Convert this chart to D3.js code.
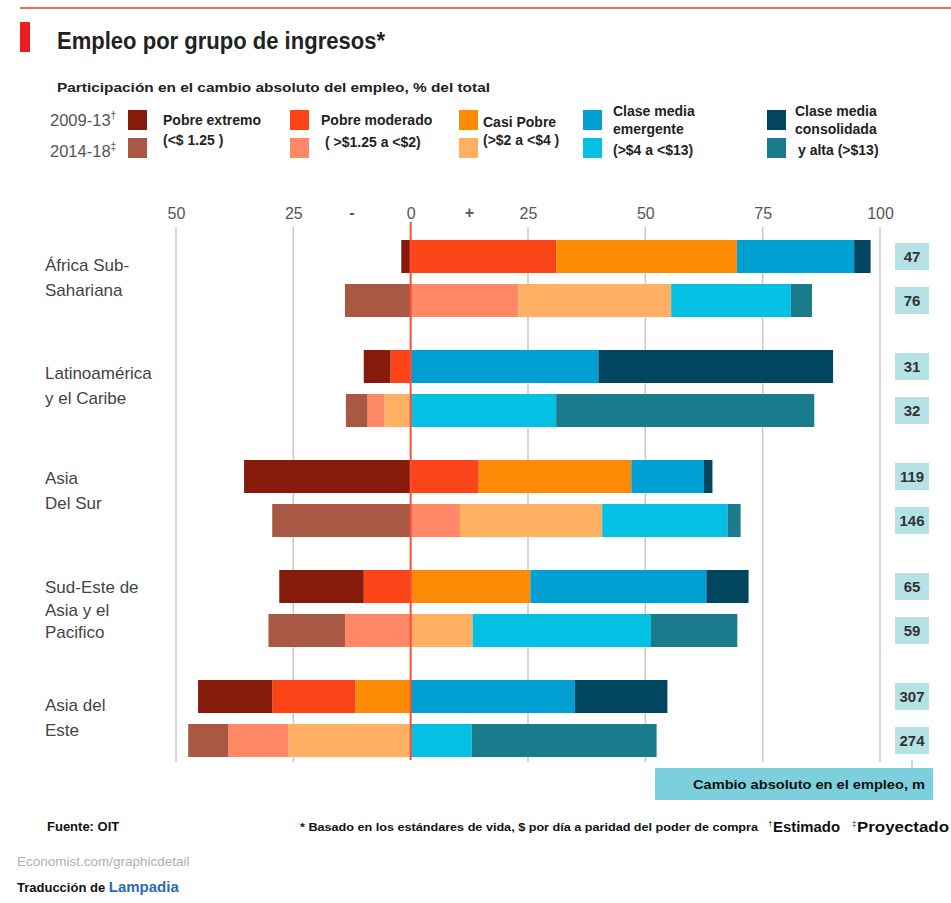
<!DOCTYPE html>
<html>
<head>
<meta charset="utf-8">
<script src="https://cdn.jsdelivr.net/npm/d3@7"></script>
<style>
  body { margin: 0; background: #fff; }
  text { font-family: "Liberation Sans", Arial, sans-serif; }
</style>
</head>
<body>
<div class="chart"></div>
<script>
// data
const regions = ["África Sub-Sahariana", "Latinoamérica y el Caribe", "Asia Del Sur", "Sud-Este de Asia y el Pacifico", "Asia del Este"];
const regionLines = [["África Sub-", "Sahariana"], ["Latinoamérica", "y el Caribe"], ["Asia", "Del Sur"], ["Sud-Este de", "Asia y el", "Pacifico"], ["Asia del", "Este"]];
const years = ["2009-13", "2014-18"];
const categories = ["Pobre extremo", "Pobre moderado", "Casi Pobre", "Clase media emergente", "Clase media consolidada y alta"];
// signed share of absolute change in employment, % of total (one row per region)
const values2009 = [
  [-2, 31, 38.5, 25, 3.5],
  [-5.7, -4.3, 0, 40, 50],
  [-35.5, 14.5, 32.5, 15.5, 1.8],
  [-18, -10, 25.5, 37.5, 9],
  [-15.8, -17.7, -11.8, 35, 19.7]
];
const values2014 = [
  [-14, 23, 32.5, 25.5, 4.5],
  [-4.6, -3.6, -5.6, 31, 55],
  [-29.5, 10.5, 30.3, 26.7, 2.8],
  [-16.3, -14, 13.2, 38, 18.4],
  [-8.5, -12.9, -26, 13, 39.4]
];
const change2009 = [47, 31, 119, 65, 307];
const change2014 = [76, 32, 146, 59, 274];
const tickValues = [-50, -25, 0, 25, 50, 75, 100];

const colors2009 = ["#861b0b", "#fc4419", "#fd8b06", "#02a0d2", "#01455e"];
const colors2014 = ["#a85843", "#ff8966", "#ffb062", "#04c1e3", "#1a7b8d"];

const totalWidth = 951, totalHeight = 903;

const svg = d3.select(".chart").append("svg")
  .attr("width", totalWidth).attr("height", totalHeight);

// header
svg.append("line").attr("x1", 20).attr("x2", 951).attr("y1", 8).attr("y2", 8)
  .attr("stroke", "#f06a5e").attr("stroke-width", 2);
svg.append("rect").attr("x", 20).attr("y", 22).attr("width", 10).attr("height", 30).attr("fill", "#ee1c1c");
svg.append("text").attr("x", 57).attr("y", 49)
  .attr("font-size", 24).attr("font-weight", "bold").attr("fill", "#222")
  .attr("textLength", 328).attr("lengthAdjust", "spacingAndGlyphs")
  .text("Empleo por grupo de ingresos*");
svg.append("text").attr("x", 57).attr("y", 92)
  .attr("font-size", 13.5).attr("font-weight", "bold").attr("fill", "#222")
  .attr("textLength", 433).attr("lengthAdjust", "spacingAndGlyphs")
  .text("Participación en el cambio absoluto del empleo, % del total");

// legend
const legend = svg.append("g");
const yearLabel = legend.selectAll(".yl").data(years).enter().append("text")
  .attr("x", 50).attr("y", (d, i) => 126 + i * 31)
  .attr("font-size", 16.5).attr("fill", "#555")
  .text(d => d);
yearLabel.append("tspan").attr("font-size", 10).attr("dy", -7).text((d, i) => i ? "‡" : "†");

const legendX = [128, 290, 459, 583, 767];
const legendTexts = [
  [["Pobre extremo", 163, 125], ["(<$ 1.25 )", 163, 145]],
  [["Pobre moderado", 321, 125], ["( >$1.25 a <$2)", 325, 147]],
  [["Casi Pobre", 483, 127], ["(>$2 a <$4 )", 483, 145]],
  [["Clase media", 613, 116], ["emergente", 613, 134], ["(>$4 a <$13)", 613, 155]],
  [["Clase media", 795, 116], ["consolidada", 795, 134], ["y alta (>$13)", 798, 155]]
];
categories.forEach((c, i) => {
  legend.append("rect").attr("x", legendX[i]).attr("y", 110).attr("width", 19).attr("height", 20).attr("fill", colors2009[i]);
  legend.append("rect").attr("x", legendX[i]).attr("y", 138).attr("width", 19).attr("height", 20).attr("fill", colors2014[i]);
  legendTexts[i].forEach(t => {
    legend.append("text").attr("x", t[1]).attr("y", t[2])
      .attr("font-size", 14).attr("font-weight", "bold").attr("fill", "#222")
      .text(t[0]);
  });
});

// scales
const xScale = d3.scaleLinear().domain([-50, 100]).range([176, 880]);
const yRegion = d3.scaleBand().domain(regions).range([240, 757]).paddingInner(0.3);
const yYear = d3.scaleBand().domain(years).range([0, yRegion.bandwidth()]).paddingInner(0.25);

// top axis labels
const xAxis = d3.axisTop(xScale).tickValues(tickValues).tickSize(0).tickFormat(d => Math.abs(d));
const axisG = svg.append("g").attr("transform", "translate(0,222)").call(xAxis);
axisG.select(".domain").remove();
axisG.selectAll("text").attr("font-size", 16).attr("fill", "#555")
  .attr("font-family", "Liberation Sans, Arial");
svg.selectAll(".sign").data([["-", -12.5], ["+", 12.5]]).enter().append("text")
  .attr("x", d => xScale(d[1])).attr("y", 218).attr("text-anchor", "middle")
  .attr("font-size", 16).attr("font-weight", "bold").attr("fill", "#555").text(d => d[0]);

// gridlines
svg.append("g").selectAll("line").data(tickValues.filter(d => d !== 0)).enter().append("line")
  .attr("x1", d => xScale(d)).attr("x2", d => xScale(d))
  .attr("y1", 227).attr("y2", 762)
  .attr("stroke", "#c8c8c8").attr("stroke-width", 1.5);

// bars
const chartGroup = svg.append("g");
regions.forEach((r, ri) => {
  [values2009[ri], values2014[ri]].forEach((vals, yi) => {
    const cols = yi ? colors2014 : colors2009;
    const y = yRegion(r) + yYear(years[yi]);
    const segs = [];
    let pos = 0;
    vals.forEach((v, ci) => {
      if (v > 0) { segs.push({ x0: pos, x1: pos + v, c: cols[ci] }); pos += v; }
    });
    let neg = 0;
    for (let ci = vals.length - 1; ci >= 0; ci--) {
      const v = vals[ci];
      if (v < 0) { segs.push({ x0: neg + v, x1: neg, c: cols[ci] }); neg += v; }
    }
    chartGroup.selectAll(null).data(segs).enter().append("rect")
      .attr("x", d => xScale(d.x0))
      .attr("width", d => xScale(d.x1) - xScale(d.x0))
      .attr("y", y).attr("height", yYear.bandwidth())
      .attr("fill", d => d.c);
  });
});

// zero line
svg.append("line").attr("x1", xScale(0)).attr("x2", xScale(0)).attr("y1", 222).attr("y2", 760)
  .attr("stroke", "#ff4a3a").attr("stroke-width", 2);

// region labels
const labelShift = [0, -2, -7, 2, 0];
regions.forEach((r, ri) => {
  const lines = regionLines[ri];
  const lh = lines.length > 2 ? 22.5 : 24.5;
  const mid = yRegion(r) + yRegion.bandwidth() / 2;
  const start = mid - (lines.length - 1) * lh / 2 + 5 + labelShift[ri];
  lines.forEach((l, li) => {
    svg.append("text").attr("x", 45).attr("y", start + li * lh)
      .attr("font-size", 17).attr("fill", "#444")
      .text(l);
  });
});

// change labels
const changeData = [];
regions.forEach((r, ri) => {
  changeData.push({ y: yRegion(r) + yYear(years[0]) + yYear.bandwidth() / 2, v: change2009[ri] });
  changeData.push({ y: yRegion(r) + yYear(years[1]) + yYear.bandwidth() / 2, v: change2014[ri] });
});
svg.selectAll(".cbox").data(changeData).enter().append("rect")
  .attr("x", 895).attr("y", d => d.y - 13.5).attr("width", 34).attr("height", 27)
  .attr("fill", "#b5e2e5");
svg.selectAll(".clab").data(changeData).enter().append("text")
  .attr("x", 912).attr("y", d => d.y + 5.5).attr("text-anchor", "middle")
  .attr("font-size", 15).attr("font-weight", "bold").attr("fill", "#333")
  .text(d => d.v);

// box for change title
svg.append("line").attr("x1", 912).attr("x2", 912).attr("y1", 760).attr("y2", 768)
  .attr("stroke", "#aaa").attr("stroke-width", 1);
svg.append("rect").attr("x", 655).attr("y", 768).attr("width", 278).attr("height", 32).attr("fill", "#7ccfdd");
svg.append("text").attr("x", 925).attr("y", 789).attr("text-anchor", "end")
  .attr("font-size", 13).attr("font-weight", "bold").attr("fill", "#111")
  .attr("textLength", 232).attr("lengthAdjust", "spacingAndGlyphs")
  .text("Cambio absoluto en el empleo, m");

// footer
svg.append("text").attr("x", 47).attr("y", 831).attr("font-size", 13).attr("font-weight", "bold").attr("fill", "#111")
  .text("Fuente: OIT");
svg.append("text").attr("x", 300).attr("y", 831).attr("font-size", 11).attr("font-weight", "bold").attr("fill", "#111")
  .attr("textLength", 458).attr("lengthAdjust", "spacingAndGlyphs")
  .text("* Basado en los estándares de vida, $ por día a paridad del poder de compra");
svg.append("text").attr("x", 768).attr("y", 826).attr("font-size", 8).attr("fill", "#111").text("†");
svg.append("text").attr("x", 773).attr("y", 832).attr("font-size", 14).attr("font-weight", "bold").attr("fill", "#111")
  .attr("textLength", 67).attr("lengthAdjust", "spacingAndGlyphs").text("Estimado");
svg.append("text").attr("x", 852).attr("y", 826).attr("font-size", 8).attr("fill", "#111").text("‡");
svg.append("text").attr("x", 857).attr("y", 832).attr("font-size", 14).attr("font-weight", "bold").attr("fill", "#111")
  .attr("textLength", 92).attr("lengthAdjust", "spacingAndGlyphs").text("Proyectado");
svg.append("text").attr("x", 17).attr("y", 866).attr("font-size", 13.5).attr("fill", "#b0b0b0")
  .text("Economist.com/graphicdetail");
const trad = svg.append("text").attr("x", 17).attr("y", 892).attr("font-size", 13).attr("font-weight", "bold").attr("fill", "#111");
trad.append("tspan").text("Traducción de ");
trad.append("tspan").attr("font-size", 15).attr("fill", "#2a6db5").text("Lampadia");
</script>
</body>
</html>
